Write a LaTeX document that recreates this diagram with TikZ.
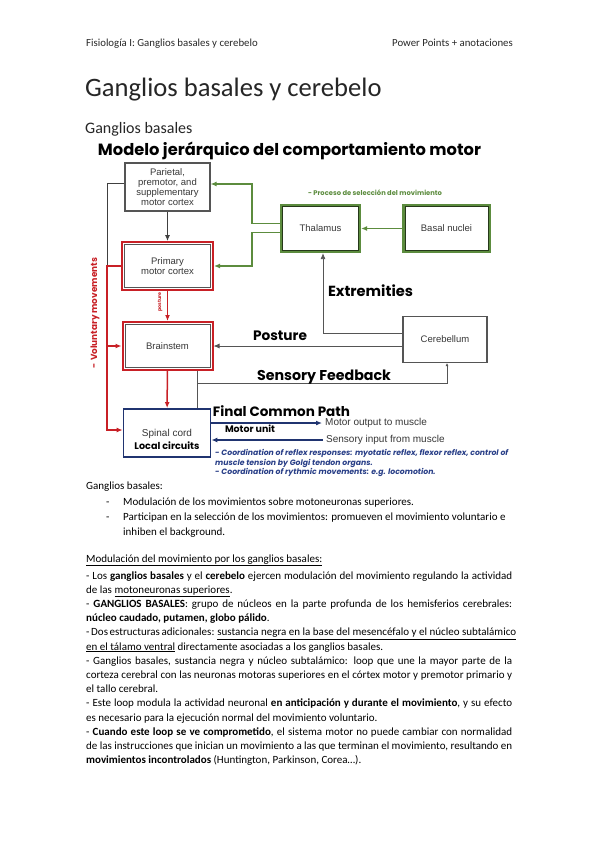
\documentclass[tikz,border=0pt]{standalone}
\usepackage{fontspec}
\setmainfont{Carlito}
\newfontfamily\arialf{Liberation Sans}
\newfontfamily\comic{Poppins}
\usepackage{graphicx}
\usetikzlibrary{arrows.meta}

\definecolor{redln}{RGB}{200,32,38}
\definecolor{grnln}{RGB}{92,140,62}
\definecolor{bluln}{RGB}{32,52,112}
\definecolor{bluetxt}{RGB}{40,62,135}
\definecolor{grayln}{RGB}{85,85,85}
\definecolor{boxtxt}{RGB}{55,55,55}
\definecolor{hdrtxt}{RGB}{40,40,40}

% squeeze a label to a given width (in pt)
\newcommand\fitto[2]{\resizebox{#1pt}{!}{#2}}
% one justified line of the body text
\newcommand\jl[1]{\makebox[\linewidth][s]{#1}}

\tikzset{
  box/.style={draw=grayln, line width=1.1pt, fill=white, inner sep=1pt, align=center,
    font=\arialf\fontsize{9.5}{10}\selectfont, text=boxtxt},
  redbox/.style={box, draw=redln, line width=2pt},
  grnbox/.style={box, draw=grnln, line width=2.2pt},
  blubox/.style={box, draw=bluln, line width=1.8pt},
  inframe/.style={draw=grayln, line width=.7pt},
  arr/.style={-{Latex[length=6pt,width=5pt]}},
  blkln/.style={draw=black!75, line width=.9pt},
  redcon/.style={draw=redln, line width=1.5pt},
  grncon/.style={draw=grnln, line width=1.6pt},
  graycon/.style={draw=grayln, line width=.8pt},
  blucon/.style={draw=bluln, line width=1.5pt},
  comiclbl/.style={inner sep=0, text=black},
  lbl/.style={inner sep=0, font=\arialf\fontsize{10}{12}\selectfont, text=boxtxt},
  hdr/.style={inner sep=0, font=\fontsize{10.8}{13}\selectfont, text=hdrtxt},
  body/.style={inner sep=0, anchor=base west, font=\fontsize{11}{14.2}\selectfont}
}

\begin{document}
\begin{tikzpicture}[x=1pt,y=-1pt]
  \fill[white] (0,0) rectangle (599,848);
  \useasboundingbox (0,0) rectangle (599,848);

  % page head
  \node[hdr, anchor=base west] (hl) at (86,47) {Fisiología I: Ganglios basales y cerebelo};
  \node[hdr, anchor=base east] (hr) at (513,47) {Power Points + anotaciones};
  \node[inner sep=0, anchor=base west, font=\fontsize{26.6}{30}\selectfont, text=black!85] (ttl) at (85,97) {Ganglios basales y cerebelo};
  \node[inner sep=0, anchor=base west, font=\fontsize{16}{19}\selectfont, text=black!85] (sub) at (85,134) {Ganglios basales};

  % the slide
  \node[comiclbl] (dtitle) at (289.5,151) {\fitto{383}{\comic\bfseries Modelo jerárquico del comportamiento motor}};

  \node[box, minimum width=85pt, minimum height=48pt] (par) at (167.5,187) {Parietal,\\premotor, and\\supplementary\\motor cortex};
  \node[redbox, minimum width=91pt, minimum height=48pt] (prim) at (167.5,266) {Primary\\motor cortex};
  \node[redbox, minimum width=90pt, minimum height=48pt] (brain) at (167.5,346) {Brainstem};
  \node[blubox, minimum width=87pt, minimum height=48pt] (spin) at (167,433) {};
  \node[lbl, align=center] (spinlbl) at (167,439) {Spinal cord\\[1pt]\fitto{65}{\comic\bfseries\color{black}Local circuits}};
  \node[grnbox, minimum width=79pt, minimum height=47pt] (thal) at (320.5,228.5) {Thalamus};
  \node[grnbox, minimum width=86pt, minimum height=47pt] (basal) at (446.5,228.5) {Basal nuclei};
  \node[box, minimum width=84pt, minimum height=46pt] (cereb) at (445,339.5) {Cerebellum};

  % double frames
  \foreach \n in {prim,brain}
    \draw[inframe] ([shift={(3.5pt,-3.5pt)}]\n.north west) rectangle ([shift={(-3.5pt,3.5pt)}]\n.south east);
  \foreach \n in {thal,basal}
    \draw[inframe, draw=grnln!40!black] ([shift={(2.6pt,-2.6pt)}]\n.north west) rectangle ([shift={(-2.6pt,2.6pt)}]\n.south east);

  % down the left column
  \draw[blkln, arr] (par) -- (prim);
  \draw[redcon, arr] (prim) -- (brain);
  \draw[redcon, arr] (brain) -- (spin);
  \node[comiclbl, rotate=90, text=redln] (pst) at (160,302) {\fitto{19}{\comic\bfseries posture}};

  % voluntary movements
  \coordinate (vl) at (107,266);
  \coordinate (vs) at (107,430);
  \draw[blkln] ([yshift=4pt]par.west) -| (vl);
  \draw[redcon, arr] (prim.west) -| (vs) -- (vs -| spin.west);
  \draw[redcon, arr] (vl |- brain.west) -- (brain.west);
  \node[comiclbl, rotate=90, text=redln] (vol) at (95,313) {\fitto{110}{\comic\bfseries - Voluntary movements}};

  % selection loop
  \coordinate (gu) at (252,184);
  \coordinate (gd) at (252,266);
  \draw[grncon, arr] ([yshift=5pt]thal.west) -| (gu) -- (gu -| par.east);
  \draw[grncon, arr] ([yshift=-4pt]thal.west) -| (gd) -- (gd -| prim.east);
  \draw[grncon, arr] (basal) -- (thal);
  \node[comiclbl, text=grnln] (proc) at (375,193) {\fitto{134}{\comic\bfseries - Proceso de selección del movimiento}};

  % cerebellum
  \draw[graycon, arr] ([yshift=6.5pt]cereb.west) -| ([xshift=2.5pt]thal.south);
  \draw[graycon, arr] (cereb.west |- brain.east) -- (brain.east);
  \coordinate (sf) at (197,383);
  \draw[graycon] (sf |- brain.south) -- (sf |- spin.north);
  \draw[graycon, -{Latex[length=3pt,width=3pt]}] (sf) -| ([xshift=2pt]cereb.south);
  \node[comiclbl] (ext) at (370.5,291) {\fitto{85}{\comic\bfseries Extremities}};
  \node[comiclbl] (pos) at (280,336) {\fitto{54}{\comic\bfseries Posture}};
  \node[comiclbl] (sfb) at (324,377.5) {\fitto{134}{\comic\bfseries Sensory Feedback}};

  % final common path
  \node[comiclbl] (fcp) at (281.5,411.5) {\fitto{137}{\comic\bfseries Final Common Path}};
  \node[comiclbl] (mu) at (250,428.5) {\fitto{50}{\comic\bfseries Motor unit}};
  \node[lbl, anchor=west, inner sep=3pt] (mo) at (322,423) {Motor output to muscle};
  \node[lbl, anchor=west, inner sep=3pt] (si) at (323,440) {Sensory input from muscle};
  \draw[blucon, arr] (spin.east |- mo.west) -- (mo.west);
  \draw[blucon, arr] (si.west) -- (spin.east |- si.west);
  \node[comiclbl, anchor=north west, text=bluetxt] (coord) at (215,448) {\fitto{293}{\comic\bfseries\itshape\fontsize{7}{9}\selectfont
    \begin{tabular}{@{}l@{}}
      - Coordination of reflex responses: myotatic reflex, flexor reflex, control of\\
      muscle tension by Golgi tendon organs.\\
      - Coordination of rythmic movements: e.g. locomotion.
    \end{tabular}}};

  % notes
  \node[body] (gb) at (86,489) {Ganglios basales:};
  \node[body] (d1) at (106,505) {-};
  \node[body] (b1) at (123,505) {Modulación de los movimientos sobre motoneuronas superiores.};
  \node[body] (d2) at (106,520) {-};
  \node[body, font=\fontsize{11}{15}\selectfont] (b2) at (123,520) {\parbox[t]{390pt}{Participan en la selección de los movimientos: promueven el movimiento voluntario e\\
    inhiben el background.}};

  \node[body] (mh) at (86,562) {\underline{Modulación del movimiento por los ganglios basales:}};
  \node[body] (notes) at (86,579) {\parbox[t]{426pt}{%
    \jl{- Los \textbf{ganglios basales} y el \textbf{cerebelo} ejercen modulación del movimiento regulando la actividad}\\
    de las \underline{motoneuronas superiores}.\\
    \jl{- \textbf{GANGLIOS BASALES}: grupo de núcleos en la parte profunda de los hemisferios cerebrales:}\\
    \textbf{núcleo caudado, putamen, globo pálido}.\\
    \jl{- Dos estructuras adicionales: \underline{sustancia negra en la base del mesencéfalo y el núcleo subtalámico}}\\
    \underline{en el tálamo ventral} directamente asociadas a los ganglios basales.\\
    \jl{- Ganglios basales, sustancia negra y núcleo subtalámico: loop que une la mayor parte de la}\\
    \jl{corteza cerebral con las neuronas motoras superiores en el córtex motor y premotor primario y}\\
    el tallo cerebral.\\
    \jl{- Este loop modula la actividad neuronal \textbf{en anticipación y durante el movimiento}, y su efecto}\\
    es necesario para la ejecución normal del movimiento voluntario.\\
    \jl{- \textbf{Cuando este loop se ve comprometido}, el sistema motor no puede cambiar con normalidad}\\
    \jl{de las instrucciones que inician un movimiento a las que terminan el movimiento, resultando en}\\
    \textbf{movimientos incontrolados} (Huntington, Parkinson, Corea…).}};
\end{tikzpicture}
\end{document}
